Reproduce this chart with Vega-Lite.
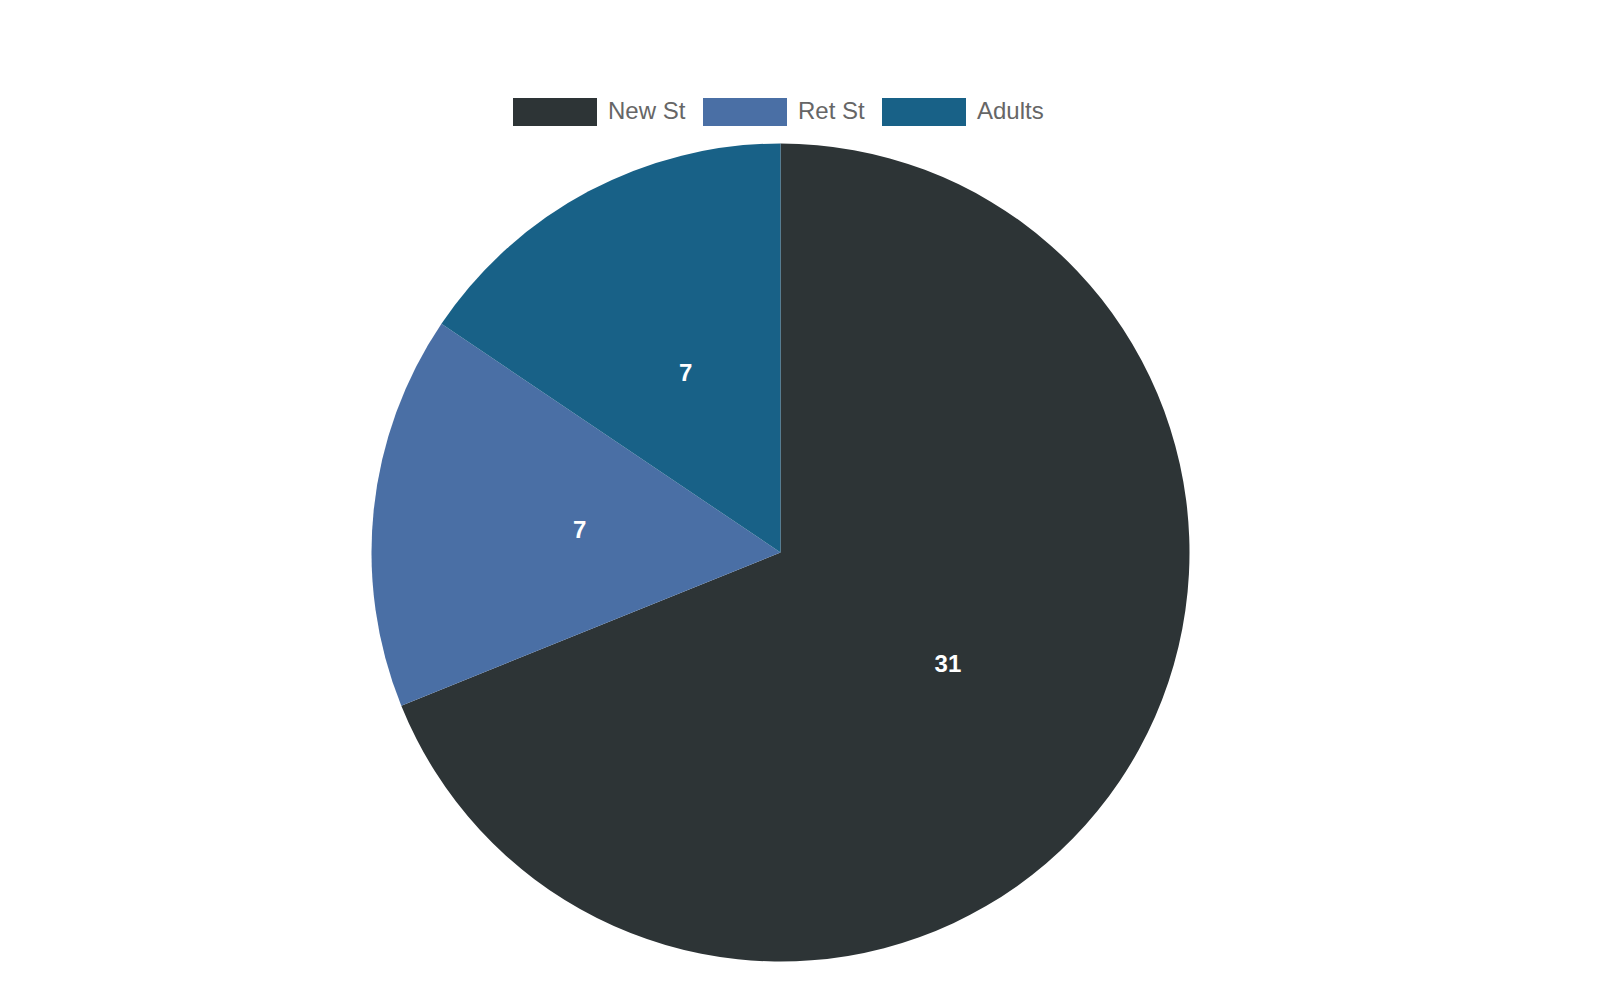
{
  "$schema": "https://vega.github.io/schema/vega-lite/v6.json",
  "autosize": "none",
  "width": 1561,
  "height": 1105,
  "padding": 0,
  "background": "white",
  "config": {"view": {"stroke": null}, "font": "Liberation Sans"},
  "data": {
    "values": [
      {"group": "New St", "count": 31, "idx": 1},
      {"group": "Ret St", "count": 7, "idx": 2},
      {"group": "Adults", "count": 7, "idx": 3}
    ]
  },
  "encoding": {
    "theta": {"field": "count", "type": "quantitative", "stack": true},
    "order": {"field": "idx", "type": "quantitative"},
    "color": {
      "field": "group",
      "type": "nominal",
      "sort": ["New St", "Ret St", "Adults"],
      "scale": {"domain": ["New St", "Ret St", "Adults"], "range": ["#2d3436", "#4a6fa5", "#186187"]},
      "legend": {
        "orient": "none",
        "legendX": 513,
        "legendY": 70,
        "direction": "horizontal",
        "title": null,
        "symbolType": "M-1,-0.333H1V0.333H-1Z",
        "symbolSize": 7056,
        "symbolStrokeWidth": 0,
        "symbolOpacity": 1,
        "labelFont": "Liberation Sans",
        "labelFontSize": 24,
        "labelColor": "#666666",
        "labelOffset": 11,
        "columnPadding": 17,
        "labelLimit": 300
      }
    }
  },
  "layer": [
    {"mark": {"type": "arc", "radius": 409, "stroke": null}},
    {
      "mark": {"type": "text", "radius": 202, "fill": "white", "fontSize": 24, "fontWeight": "bold", "font": "Liberation Sans"},
      "encoding": {"text": {"field": "count", "type": "quantitative"}, "color": {"value": "white"}}
    }
  ]
}
